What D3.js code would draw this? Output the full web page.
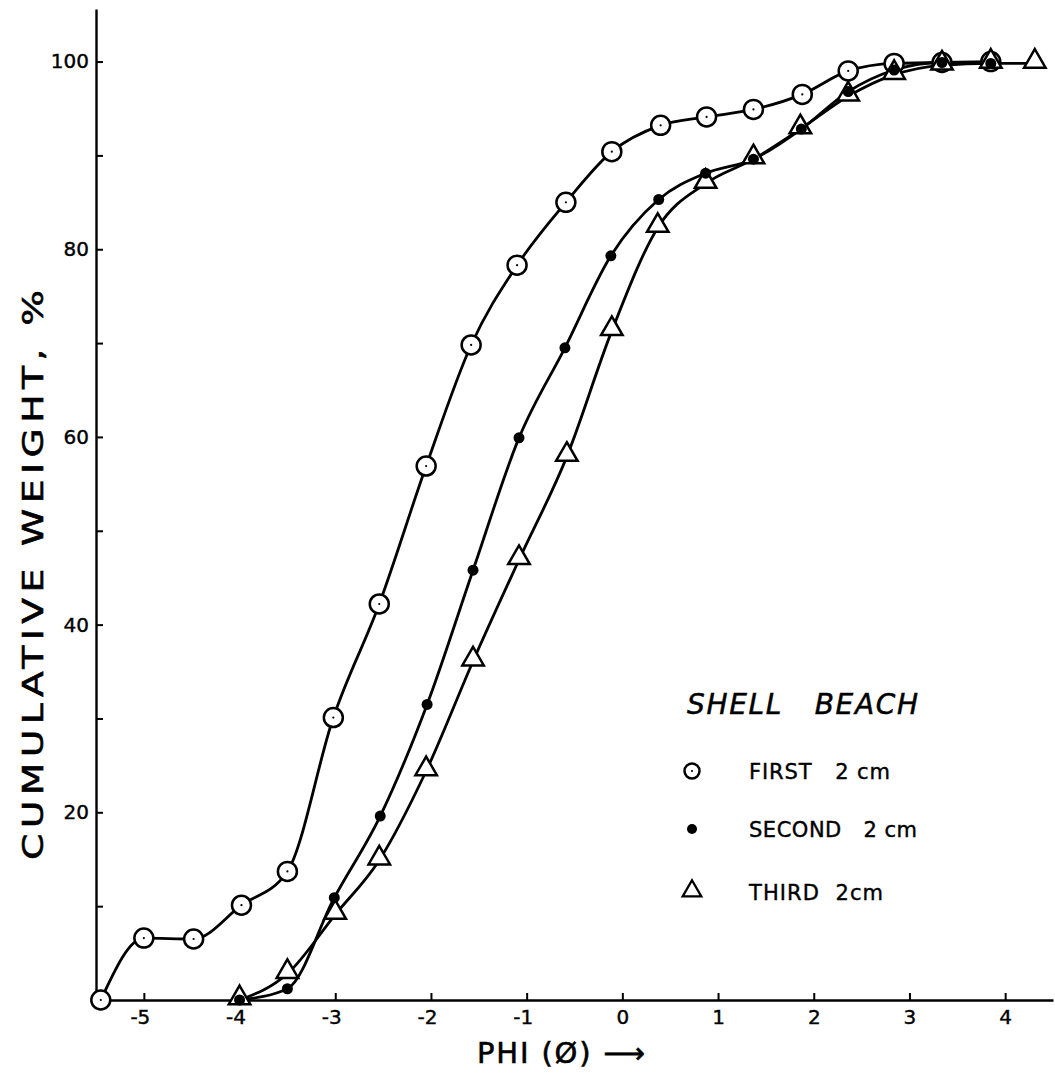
<!DOCTYPE html>
<html>
<head>
<meta charset="utf-8">
<script src="https://cdn.jsdelivr.net/npm/d3@7"></script>
<style>
  body { margin: 0; background: #fff; }
  svg text { font-family: "DejaVu Sans", "Liberation Sans", sans-serif; fill: #000; white-space: pre; }
</style>
</head>
<body>
<div id="chart"></div>
<script>
"use strict";

// values (phi, cumulative weight %)
const phiFirst = [-5.45, -5.0, -4.48, -3.98, -3.5, -3.02, -2.54, -2.05, -1.58, -1.1, -0.59, -0.11, 0.4, 0.88, 1.37, 1.88, 2.36, 2.84, 3.34, 3.85];
const wtFirst = [0, 6.6, 6.5, 10.1, 13.7, 30.1, 42.2, 56.9, 69.8, 78.3, 85.0, 90.4, 93.2, 94.1, 94.9, 96.5, 99.0, 99.8, 99.9, 100];

const phiSecond = [-4.0, -3.5, -3.01, -2.53, -2.04, -1.56, -1.08, -0.6, -0.12, 0.38, 0.87, 1.37, 1.87, 2.36, 2.84, 3.34, 3.85];
const wtSecond = [0, 1.2, 10.9, 19.6, 31.5, 45.8, 59.9, 69.5, 79.3, 85.3, 88.1, 89.6, 92.8, 96.8, 99.1, 99.9, 99.8];

const phiThird = [-4.0, -3.5, -3.0, -2.54, -2.05, -1.56, -1.08, -0.58, -0.11, 0.37, 0.87, 1.37, 1.86, 2.36, 2.84, 3.34, 3.85, 4.31];
const wtThird = [0, 2.8, 9.1, 14.9, 24.4, 36.1, 46.9, 57.9, 71.3, 82.3, 87.0, 89.6, 92.8, 96.3, 98.6, 99.6, 99.8, 99.8];

const xTicks = [-5, -4, -3, -2, -1, 0, 1, 2, 3, 4];
const yTicks = [10, 20, 30, 40, 50, 60, 70, 80, 90, 100];
const legendLabels = ["FIRST   2 cm", "SECOND   2 cm", "THIRD  2cm"];

const width = 1055,
  height = 1084;

const svg = d3
  .select("#chart")
  .append("svg")
  .attr("width", width)
  .attr("height", height);

const x = d3.scaleLinear().domain([-5.5, 4.5]).range([96, 1053]);
const y = d3.scaleLinear().domain([0, 105.6]).range([1000, 9]);

// axes, ticks pointing inward like the original
const xAxis = svg
  .append("g")
  .attr("transform", `translate(0,${y(0)})`)
  .call(
    d3
      .axisBottom(x)
      .tickValues(xTicks)
      .tickSizeInner(-7)
      .tickSizeOuter(0)
      .tickPadding(10)
      .tickFormat((d) => String(d))
  );

const yAxis = svg
  .append("g")
  .attr("transform", `translate(${x(-5.5)},0)`)
  .call(
    d3
      .axisLeft(y)
      .tickValues(yTicks)
      .tickSizeInner(-7)
      .tickSizeOuter(0)
      .tickPadding(7)
      .tickFormat((d) => (d % 20 === 0 ? d : ""))
  );

[xAxis, yAxis].forEach((g) => {
  g.select(".domain").attr("stroke-width", 2.4);
  g.selectAll(".tick line").attr("stroke-width", 2);
  g.selectAll(".tick text")
    .style("font-family", "'DejaVu Sans', sans-serif")
    .style("font-size", "20px")
    .attr("stroke", "#000")
    .attr("stroke-width", 0.4);
});
xAxis.selectAll(".tick text").attr("dx", (d) => (d < 0 ? "-0.2em" : 0));

// axis titles
svg
  .append("text")
  .attr("x", 477)
  .attr("y", 1063)
  .style("font-size", "29px")
  .attr("textLength", 168)
  .attr("lengthAdjust", "spacing")
  .attr("stroke", "#000")
  .attr("stroke-width", 0.6)
  .text("PHI (Ø) ⟶");

svg
  .append("text")
  .attr("transform", "translate(43,575) rotate(-90) scale(1.3,1)")
  .attr("text-anchor", "middle")
  .style("font-size", "29px")
  .attr("textLength", 570 / 1.3)
  .attr("lengthAdjust", "spacing")
  .attr("stroke", "#000")
  .attr("stroke-width", 0.6)
  .text("CUMULATIVE WEIGHT, %");

// curves
const line = d3
  .line()
  .x((d) => x(d[0]))
  .y((d) => y(d[1]))
  .curve(d3.curveMonotoneX);

const first = d3.zip(phiFirst, wtFirst);
const second = d3.zip(phiSecond, wtSecond);
const third = d3.zip(phiThird, wtThird);

const curves = svg.append("g").attr("fill", "none").attr("stroke", "#000").attr("stroke-width", 2.8);
[first, second, third].forEach((s) => curves.append("path").attr("d", line(s)));

// markers
const tri = d3.symbol().type(d3.symbolTriangle).size(200);

function openCircle(g, cx, cy, r) {
  g.append("circle")
    .attr("cx", cx)
    .attr("cy", cy)
    .attr("r", r)
    .attr("fill", "#fff")
    .attr("stroke", "#000")
    .attr("stroke-width", 2.5);
  g.append("circle").attr("cx", cx).attr("cy", cy).attr("r", 1.1).attr("fill", "#000");
}

const mk = svg.append("g");

first.forEach(([p, w]) => openCircle(mk, x(p), y(w), 9.5));

mk.selectAll("path.tri")
  .data(third)
  .join("path")
  .attr("class", "tri")
  .attr("d", tri)
  .attr("transform", (d) => `translate(${x(d[0])},${y(d[1]) - 2})`)
  .attr("fill", "#fff")
  .attr("stroke", "#000")
  .attr("stroke-width", 2.5);

mk.selectAll("circle.dot")
  .data(second)
  .join("circle")
  .attr("class", "dot")
  .attr("cx", (d) => x(d[0]))
  .attr("cy", (d) => y(d[1]))
  .attr("r", 5.5)
  .attr("fill", "#000");

// legend
const leg = svg.append("g");

leg
  .append("text")
  .attr("x", 687)
  .attr("y", 714)
  .style("font-size", "28px")
  .style("font-style", "italic")
  .attr("textLength", 231)
  .attr("lengthAdjust", "spacing")
  .attr("stroke", "#000")
  .attr("stroke-width", 0.5)
  .text("SHELL   BEACH");

const legY = [771, 829, 892];
const legW = [141, 168, 134];
openCircle(leg, 692, legY[0], 7.5);
leg.append("circle").attr("cx", 692).attr("cy", legY[1]).attr("r", 5).attr("fill", "#000");
leg
  .append("path")
  .attr("d", d3.symbol().type(d3.symbolTriangle).size(150)())
  .attr("transform", `translate(692,${legY[2] - 1})`)
  .attr("fill", "#fff")
  .attr("stroke", "#000")
  .attr("stroke-width", 2.3);

leg
  .selectAll("text.item")
  .data(legendLabels)
  .join("text")
  .attr("class", "item")
  .attr("x", 749)
  .attr("y", (d, i) => legY[i] + 8)
  .style("font-size", "21px")
  .attr("textLength", (d, i) => legW[i])
  .attr("lengthAdjust", "spacing")
  .attr("stroke", "#000")
  .attr("stroke-width", 0.4)
  .text((d) => d);
</script>
</body>
</html>
